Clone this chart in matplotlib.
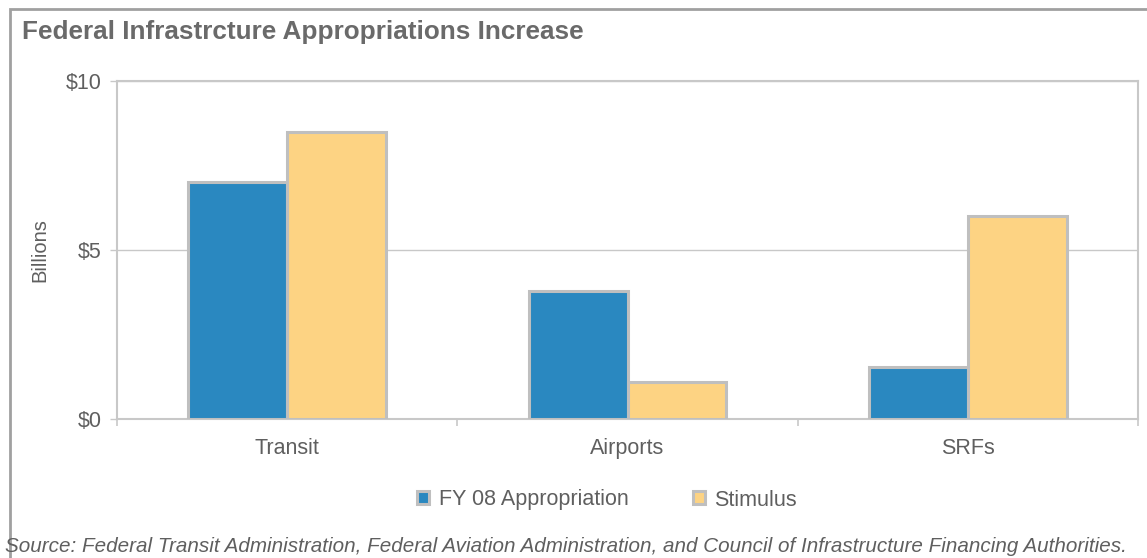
import numpy as np
import matplotlib.pyplot as plt
from matplotlib.patches import Rectangle

plt.rcParams['font.family'] = ['Liberation Sans', 'DejaVu Sans']

categories = ['Transit', 'Airports', 'SRFs']
fy08 = [7.0, 3.8, 1.55]
stimulus = [8.5, 1.1, 6.0]
series_names = ['FY 08 Appropriation', 'Stimulus']
yticks = [0, 5, 10]
ytick_labels = ['$0', '$5', '$10']

blue = '#2a88c0'
yellow = '#fdd383'
edge = '#bfbfbf'
txt = '#5f5f5f'

fig = plt.figure(figsize=(11.47, 5.58), dpi=100)
ax = fig.add_axes([117/1147, 1-419/558, (1138-117)/1147, (419-81)/558])

x = np.arange(len(categories))
w = 0.29
ax.bar(x - w/2, fy08, w, color=blue, edgecolor=edge, linewidth=2.2, label=series_names[0], zorder=3)
ax.bar(x + w/2, stimulus, w, color=yellow, edgecolor=edge, linewidth=2.2, label=series_names[1], zorder=3)

ax.set_xlim(-0.5, len(categories) - 0.5)
ax.set_ylim(0, 10)
ax.set_yticks(yticks)
ax.set_yticklabels(ytick_labels, fontsize=15.5, color=txt)
ax.yaxis.grid(True, color='#c8c8c8', linewidth=1, zorder=0)
ax.set_xticks(x)
ax.set_xticklabels(categories, fontsize=15.5, color=txt)
ax.set_xticks(np.arange(len(categories) + 1) - 0.5, minor=True)
ax.tick_params(axis='x', which='major', length=0, pad=14)
ax.tick_params(axis='x', which='minor', length=5, color='#c8c8c8', width=1.2)
ax.tick_params(axis='y', length=5, color='#c8c8c8', width=1, pad=6)
for s in ax.spines.values():
    s.set_color('#c8c8c8')
    s.set_linewidth(1.5)
ax.set_ylabel('Billions', fontsize=14.5, color=txt, labelpad=12)

leg = ax.legend(loc='center', bbox_to_anchor=((607-117)/1021, (500-419)/-338), ncol=2, frameon=False,
                fontsize=15.5, handlelength=0.55, handleheight=0.55, columnspacing=3.0,
                handletextpad=0.45)
for t in leg.get_texts():
    t.set_color(txt)

fig.text(22/1147, 1-32/558, 'Federal Infrastrcture Appropriations Increase', fontsize=18.8,
         fontweight='bold', color='#6a6a6a', va='center', ha='left')
fig.text(5/1147, 1-546/558, 'Source: Federal Transit Administration, Federal Aviation Administration, '
         'and Council of Infrastructure Financing Authorities.', fontsize=14.9, style='italic',
         color=txt, va='center', ha='left')

# outer chart frame
fig.patches.append(Rectangle((10/1147, -0.1), 1.2, 1-9/558 + 0.1, transform=fig.transFigure,
                             fill=False, edgecolor='#a0a0a0', linewidth=2))

fig.savefig('out.png', dpi=100)
